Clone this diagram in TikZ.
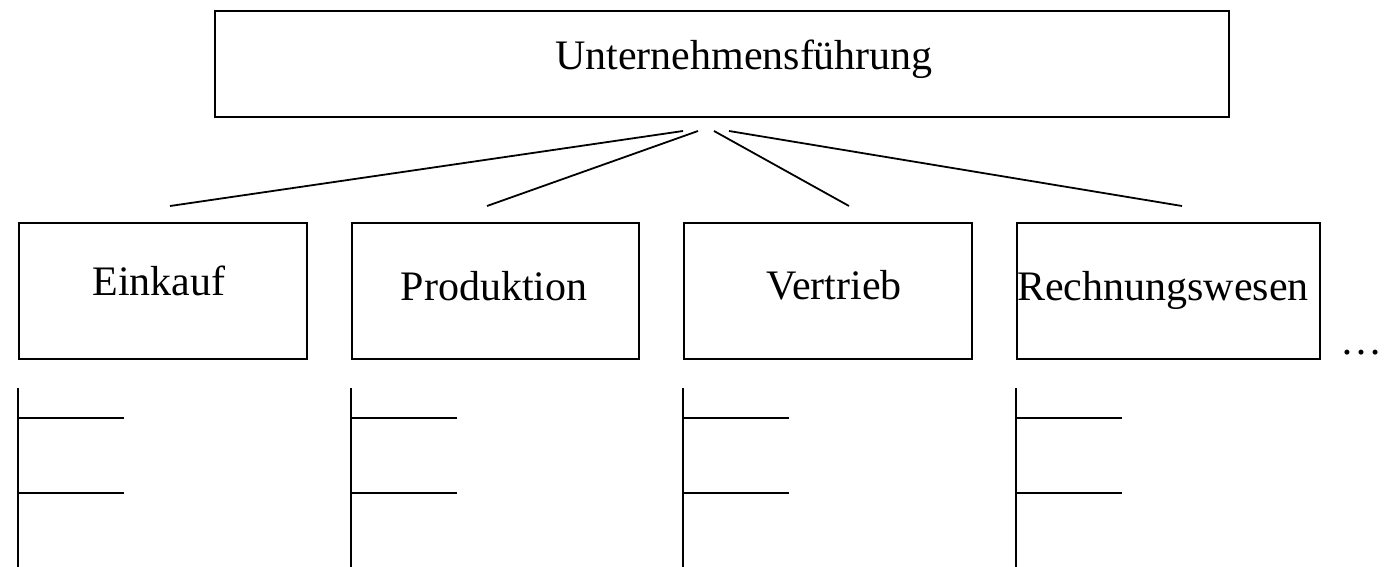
\documentclass[tikz,border=0pt]{standalone}
\usepackage{fontspec}
\setmainfont{Liberation Serif}
\begin{document}
\begin{tikzpicture}[x=1bp,y=-1bp,
  box/.style={draw=black,line width=2bp,rectangle,inner sep=0pt,anchor=north west},
  lbl/.style={anchor=base,inner sep=0pt,font=\fontsize{42bp}{50bp}\selectfont},
  conn/.style={draw=black,line width=1.8bp},
  tree/.style={draw=black,line width=1.8bp}]
\useasboundingbox (0,0) rectangle (1386,567);
% boxes
\node[box,minimum width=1014bp,minimum height=106bp] (top) at (214,10) {};
\node[box,minimum width=288bp,minimum height=136bp] (ein) at (18,222) {};
\node[box,minimum width=287bp,minimum height=136bp] (pro) at (351,222) {};
\node[box,minimum width=288bp,minimum height=136bp] (ver) at (683,222) {};
\node[box,minimum width=303bp,minimum height=136bp] (rec) at (1016,222) {};
% labels
\node[lbl] (ttop) at (744,70) {Unternehmensführung};
\node[lbl] (tein) at (159,295) {Einkauf};
\node[lbl] (tpro) at (494,300) {Produktion};
\node[lbl] (tver) at (834,299) {Vertrieb};
\node[lbl] (trec) at (1163,300) {Rechnungswesen};
\node[lbl,anchor=base west] (dots) at (1340,354) {…};
% connector ends
\coordinate (s1) at (683,131);
\coordinate (s2) at (698,131);
\coordinate (s3) at (714,131);
\coordinate (s4) at (729,131);
\coordinate (e1) at (170,206);
\coordinate (e2) at (487,206);
\coordinate (e3) at (849,206);
\coordinate (e4) at (1182,206);
\draw[conn] (s1) -- (e1);
\draw[conn] (s2) -- (e2);
\draw[conn] (s3) -- (e3);
\draw[conn] (s4) -- (e4);
% sub-trees
\foreach \n/\x in {a/18,b/351,c/683,d/1016}{
  \coordinate (\n top) at (\x,388);
  \coordinate (\n bot) at (\x,567);
  \coordinate (\n m1) at (\x,418);
  \coordinate (\n m2) at (\x,493);
  \coordinate (\n h1) at (\x+106,418);
  \coordinate (\n h2) at (\x+106,493);
  \draw[tree] (\n top) -- (\n bot);
  \draw[tree] (\n m1) -- (\n h1);
  \draw[tree] (\n m2) -- (\n h2);
}
\end{tikzpicture}
\end{document}
